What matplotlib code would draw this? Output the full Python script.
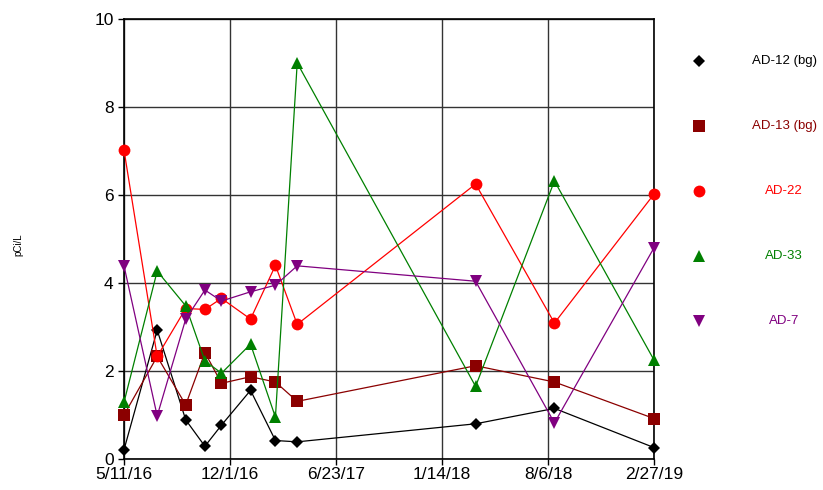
import matplotlib
matplotlib.use("Agg")
import matplotlib.pyplot as plt
import matplotlib.dates as mdates
from matplotlib.lines import Line2D
import numpy as np
import pandas as pd

plt.rcParams['font.family'] = ['Liberation Sans', 'DejaVu Sans']

# sampling dates
dates = pd.to_datetime(["2016-05-11", "2016-07-14", "2016-09-07", "2016-10-14", "2016-11-15",
                        "2017-01-10", "2017-02-27", "2017-04-10", "2018-03-20", "2018-08-19",
                        "2019-02-27"])

# pCi/L per well
ad12 = [0.21, 2.93, 0.89, 0.29, 0.77, 1.56, 0.42, 0.39, 0.80, 1.15, 0.26]
ad13 = [1.00, 2.33, 1.23, 2.42, 1.72, 1.87, 1.75, 1.31, 2.12, 1.75, 0.92]
ad22 = [7.02, 2.33, 3.42, 3.40, 3.65, 3.18, 4.40, 3.06, 6.25, 3.09, 6.02]
ad33 = [1.29, 4.27, 3.48, 2.23, 1.95, 2.61, 0.95, 9.00, 1.65, 6.32, 2.25]
ad7 = [4.39, 0.98, 3.18, 3.84, 3.59, 3.80, 3.95, 4.39, 4.04, 0.82, 4.80]

labels = ["AD-12 (bg)", "AD-13 (bg)", "AD-22", "AD-33", "AD-7"]
series = [ad12, ad13, ad22, ad33, ad7]
colors = ["black", "#8b0000", "red", "green", "purple"]
markers = ["D", "s", "o", "^", "v"]
msizes = [6, 8, 8.5, 8.5, 8.5]

fig = plt.figure(figsize=(8.23, 4.90), dpi=100)
ax = fig.add_axes([124/823, 1-459/490, 530/823, 440/490])

for y, c, m, ms in zip(series, colors, markers, msizes):
    ax.plot(dates, y, color=c, marker=m, markersize=ms, linewidth=0.9,
            markeredgewidth=0, zorder=3, clip_on=False)

# x axis: 6 evenly spaced date ticks (Excel style)
x0 = mdates.date2num(pd.Timestamp("2016-05-11"))
x1 = mdates.date2num(pd.Timestamp("2019-02-27"))
ticks = np.linspace(x0, x1, 6)
ax.set_xlim(x0, x1)
ax.set_xticks(ticks)
tick_labels = []
for t in ticks:
    d = mdates.num2date(np.floor(t + 1e-6))
    tick_labels.append(f"{d.month}/{d.day}/{d.strftime('%y')}")
ax.set_xticklabels(tick_labels)

ax.set_ylim(0, 10)
ax.set_yticks([0, 2, 4, 6, 8, 10])
ax.tick_params(labelsize=12.5, direction='out', length=4, width=1, color='black')
ax.tick_params(axis='x', pad=2)

ax.grid(True, color='#333333', linewidth=1)
ax.set_axisbelow(True)
for s in ax.spines.values():
    s.set_color('black')
    s.set_linewidth(1.2)

fig.text(18/823, 1-245/490, "pCi/L", rotation=90, fontsize=7, ha='center', va='center')

# legend, drawn by hand
for i, (lab, c, m, ms) in enumerate(zip(labels, colors, markers, msizes)):
    yy = 1 - (61 + 65*i)/490
    fig.add_artist(Line2D([699/823], [yy], marker=m, color=c, markersize=ms,
                          markeredgewidth=0, linestyle='none'))
    fig.text(784/823, yy, lab, color=c, fontsize=9.5, ha='center', va='center')

fig.savefig("out.png", dpi=100)
